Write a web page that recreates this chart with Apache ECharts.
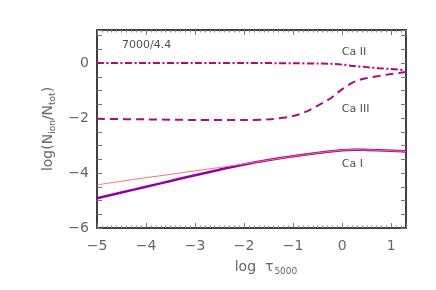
<!DOCTYPE html>
<html><head><meta charset="utf-8">
<script src="https://cdn.jsdelivr.net/npm/echarts@6/dist/echarts.min.js"></script>
<style>html,body{margin:0;padding:0;background:#fff}#c{width:436px;height:290px}</style>
</head><body><div id="c"></div>
<script>
// log tau_5000 grid for each curve
var xCaII = [-5, -4, -3, -2, -1, -0.5, -0.25, 0, 0.25, 0.5, 0.75, 1.0, 1.3];
var yCaII = [0, 0, 0, 0, -0.01, -0.02, -0.03, -0.06, -0.11, -0.15, -0.19, -0.22, -0.26];

var xCaIII = [-5, -4, -3, -2, -1.5, -1.0, -0.75, -0.5, -0.25, 0, 0.25, 0.5, 0.75, 1.0, 1.3];
var yCaIII = [-2.03, -2.05, -2.07, -2.07, -2.05, -1.93, -1.78, -1.55, -1.3, -0.95, -0.68, -0.55, -0.47, -0.4, -0.33];

var xCaI = [-5, -4.5, -4, -3.5, -3, -2.5, -2, -1.5, -1, -0.5, 0, 0.25, 0.5, 1.0, 1.3];
var yCaI = [-4.92, -4.71, -4.5, -4.29, -4.08, -3.88, -3.69, -3.53, -3.39, -3.27, -3.17, -3.15, -3.16, -3.19, -3.22];

var xCaILTE = [-5, -4.5, -4, -3.5, -3, -2.5, -2, -1.5, -1, -0.5, 0, 0.25, 0.5, 1.0, 1.3];
var yCaILTE = [-4.43, -4.30, -4.17, -4.05, -3.92, -3.80, -3.67, -3.53, -3.39, -3.27, -3.17, -3.15, -3.16, -3.19, -3.22];

var xTicks = [-5, -4, -3, -2, -1, 0, 1];
var yTicks = [-6, -4, -2, 0];

var labels = [
  {text: '7000/4.4', x: -4.49, y: 0.64},
  {text: 'Ca II', x: -0.01, y: 0.4},
  {text: 'Ca III', x: -0.01, y: -1.69},
  {text: 'Ca I', x: -0.01, y: -3.68}
];

function zip(a, b) { return a.map(function (v, i) { return [v, b[i]]; }); }
function fmt(v) { return v < 0 ? '\u2212' + Math.abs(v) : String(v); }

var FONT = 'DejaVu Sans';
var AX = '#404040';
var chart = echarts.init(document.getElementById('c'), null, {renderer: 'canvas'});

function xAx(main) {
  return {
    type: 'value', min: -5, max: 1.3, interval: 1,
    position: main ? 'bottom' : 'top',
    axisLine: {show: true, onZero: false, lineStyle: {color: AX, width: 2}},
    axisTick: {show: true, inside: true, length: 5, lineStyle: {color: '#777', width: 1}},
    minorTick: {show: true, splitNumber: 10, length: 2.5, lineStyle: {color: '#888', width: 1}},
    axisLabel: {show: main, margin: 11, fontFamily: FONT, fontSize: 14, color: '#666',
      showMaxLabel: false, showMinLabel: true,
      formatter: function (v) { return xTicks.indexOf(v) >= 0 ? fmt(v) : ''; }},
    splitLine: {show: false},
    name: main ? '{a|log  \u03c4}{s|5000}' : '',
    nameLocation: 'middle', nameGap: 30,
    nameTextStyle: {padding: [0, 0, 0, 29], rich: {
      a: {fontFamily: FONT, fontSize: 14, color: '#666', lineHeight: 18},
      s: {fontFamily: FONT, fontSize: 9, color: '#666', lineHeight: 18, verticalAlign: 'bottom', padding: [6, 0, 0, 1]}
    }}
  };
}
function yAx(main) {
  return {
    type: 'value', min: -6, max: 1.2, interval: 2,
    position: main ? 'left' : 'right',
    axisLine: {show: true, onZero: false, lineStyle: {color: AX, width: 2}},
    axisTick: {show: true, inside: true, length: 5, lineStyle: {color: '#777', width: 1}},
    minorTick: {show: true, splitNumber: 4, length: 5, lineStyle: {color: '#777', width: 1}},
    axisLabel: {show: main, margin: 8, fontFamily: FONT, fontSize: 14, color: '#666',
      showMaxLabel: false,
      formatter: function (v) { return yTicks.indexOf(v) >= 0 ? fmt(v) : ''; }},
    splitLine: {show: false},
    name: main ? '{a|log(N}{s|ion}{a|/N}{s|tot}{a|)}' : '',
    nameLocation: 'middle', nameGap: 39,
    nameTextStyle: {rich: {
      a: {fontFamily: FONT, fontSize: 14, color: '#666', lineHeight: 18},
      s: {fontFamily: FONT, fontSize: 9, color: '#666', lineHeight: 18, verticalAlign: 'bottom', padding: [6, 0, 0, 0]}
    }}
  };
}

var option = {
  animation: false,
  backgroundColor: '#fff',
  grid: {left: 97, right: 30, top: 30, bottom: 62, containLabel: false},
  xAxis: [xAx(true), xAx(false)],
  yAxis: [yAx(true), yAx(false)],
  series: [
    {type: 'line', name: 'Ca II', data: zip(xCaII, yCaII), showSymbol: false, smooth: 0.3,
      lineStyle: {color: '#b0087e', width: 2, type: [7, 2.5, 2, 2.5]}},
    {type: 'line', name: 'Ca III', data: zip(xCaIII, yCaIII), showSymbol: false, smooth: 0.3,
      lineStyle: {color: '#b0087e', width: 2, type: [8, 5]}},
    {type: 'line', name: 'Ca I', data: zip(xCaI, yCaI), showSymbol: false, smooth: 0.3,
      lineStyle: {color: '#9400a8', width: 2.5}},
    {type: 'line', name: 'Ca I LTE', data: zip(xCaILTE, yCaILTE), showSymbol: false, smooth: 0.3,
      lineStyle: {color: '#ff6e6e', width: 1}},
    {type: 'scatter', symbolSize: 0, silent: true,
      data: labels.map(function (l) { return {value: [l.x, l.y], name: l.text}; }),
      label: {show: true, position: 'right', distance: 0, formatter: function (p) { return p.name; },
        fontFamily: FONT, fontSize: 11, color: '#222'}}
  ]
};
chart.setOption(option);
</script>
</body></html>
